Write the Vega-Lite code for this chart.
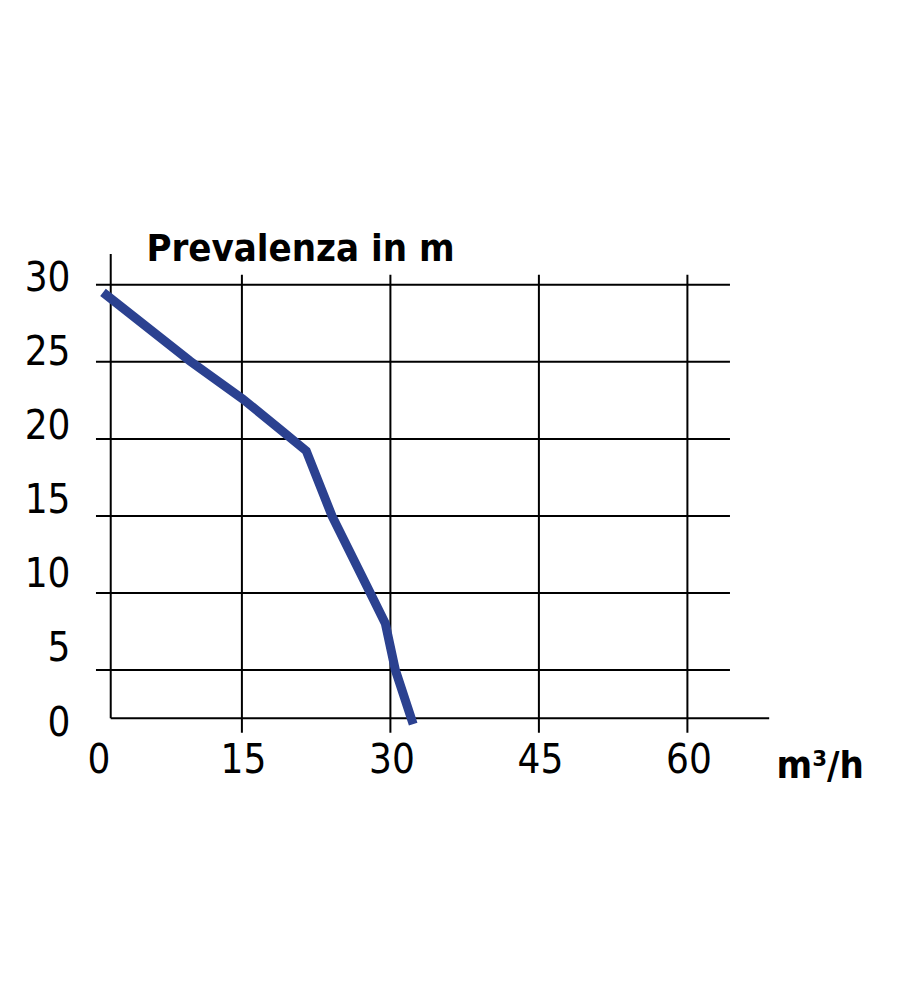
{
  "$schema": "https://vega.github.io/schema/vega-lite/v6.json",
  "autosize": "none",
  "padding": {"left": 93.4, "top": 254, "right": 113.6, "bottom": 253},
  "width": 693,
  "height": 493,
  "background": "white",
  "config": {"view": {"stroke": null}},
  "title": {
    "text": "Prevalenza in m",
    "font": "DejaVu Sans Condensed, Liberation Sans Narrow, Liberation Sans",
    "fontWeight": "bold",
    "fontSize": 38,
    "color": "black",
    "anchor": "start",
    "frame": "group",
    "baseline": "alphabetic",
    "offset": 0,
    "dx": 53,
    "dy": 46
  },
  "datasets": {
    "curve": [
      {"flow": 0.97, "head": 29.51},
      {"flow": 9.77, "head": 25.05},
      {"flow": 15.06, "head": 22.6},
      {"flow": 19.18, "head": 20.45},
      {"flow": 21.5, "head": 19.22},
      {"flow": 24.1, "head": 15.0},
      {"flow": 27.98, "head": 9.98},
      {"flow": 29.49, "head": 8.02},
      {"flow": 30.5, "head": 5.0},
      {"flow": 32.3, "head": 1.49}
    ],
    "hgrid": [{"head": 5}, {"head": 10}, {"head": 15}, {"head": 20}, {"head": 25}, {"head": 30}],
    "vgrid": [{"flow": 15}, {"flow": 30}, {"flow": 45}, {"flow": 60}]
  },
  "layer": [
    {
      "data": {"name": "hgrid"},
      "mark": {"type": "rule", "color": "black", "strokeWidth": 2},
      "encoding": {
        "y": {"field": "head", "type": "quantitative"},
        "x": {"datum": 0.26, "type": "quantitative"},
        "x2": {"datum": 64.3}
      }
    },
    {
      "data": {"name": "vgrid"},
      "mark": {"type": "rule", "color": "black", "strokeWidth": 2},
      "encoding": {
        "x": {"field": "flow", "type": "quantitative"},
        "y": {"datum": 0.93, "type": "quantitative"},
        "y2": {"datum": 30.65}
      }
    },
    {
      "data": {"values": [{}]},
      "mark": {"type": "rule", "color": "black", "strokeWidth": 2},
      "encoding": {
        "x": {"datum": 1.75, "type": "quantitative"},
        "y": {"datum": 1.86, "type": "quantitative"},
        "y2": {"datum": 32}
      }
    },
    {
      "data": {"values": [{}]},
      "mark": {"type": "rule", "color": "black", "strokeWidth": 2},
      "encoding": {
        "y": {"datum": 1.86, "type": "quantitative"},
        "x": {"datum": 1.75, "type": "quantitative"},
        "x2": {"datum": 68.26}
      }
    },
    {
      "data": {"name": "curve"},
      "mark": {"type": "line", "color": "#2b4190", "strokeWidth": 9, "strokeCap": "butt", "strokeJoin": "miter"},
      "encoding": {
        "x": {
          "field": "flow",
          "type": "quantitative",
          "scale": {"domain": [0, 70], "nice": false, "zero": false},
          "axis": {
            "values": [0, 15, 30, 45, 60],
            "domain": false,
            "ticks": false,
            "grid": false,
            "labelFont": "DejaVu Sans Condensed, Liberation Sans Narrow, Liberation Sans",
            "labelFontSize": 40,
            "labelColor": "black",
            "labelBaseline": "middle",
            "labelPadding": 13,
            "labelFlush": false,
            "labelOffset": {"expr": "datum.value == 0 ? 5 : 1"},
            "title": "m³/h",
            "titleFont": "DejaVu Sans Condensed, Liberation Sans Narrow, Liberation Sans",
            "titleFontWeight": "bold",
            "titleFontSize": 38,
            "titleColor": "black",
            "titleAlign": "left",
            "titleBaseline": "alphabetic",
            "titleX": 682.6,
            "titleY": 30
          }
        },
        "y": {
          "field": "head",
          "type": "quantitative",
          "scale": {"domain": [0, 32], "nice": false, "zero": false},
          "axis": {
            "values": [0, 5, 10, 15, 20, 25, 30],
            "domain": false,
            "ticks": false,
            "grid": false,
            "labelFont": "DejaVu Sans Condensed, Liberation Sans Narrow, Liberation Sans",
            "labelFontSize": 40,
            "labelColor": "black",
            "labelAlign": "right",
            "labelBaseline": "middle",
            "labelPadding": 23.4,
            "labelFlush": false,
            "labelOffset": {"expr": "-24 + 0.6 * datum.value"},
            "title": null
          }
        }
      }
    }
  ]
}
